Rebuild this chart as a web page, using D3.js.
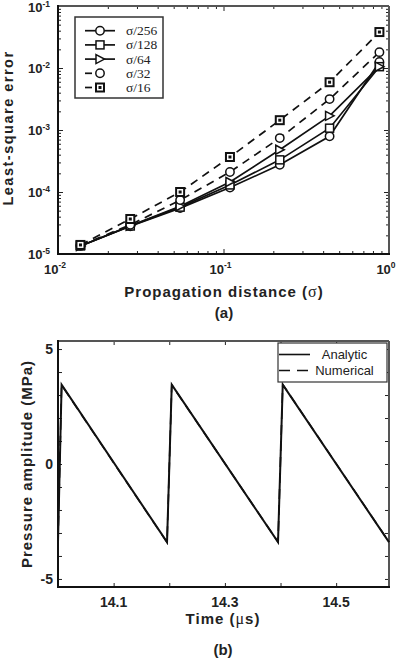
<!DOCTYPE html>
<html><head><meta charset="utf-8">
<script src="https://cdn.jsdelivr.net/npm/d3@7"></script>
<style>
html,body{margin:0;padding:0;background:#fff;}
text{font-family:"Liberation Sans",Arial,sans-serif;}
.serif{font-family:"Liberation Serif","Times New Roman",serif;}
</style>
</head><body>
<svg id="c" width="400" height="658"></svg>
<script>
// ---------- Data (a) ----------
const distance = [0.01367, 0.02734, 0.05469, 0.1094, 0.2188, 0.4375, 0.875];
const err256 = [1.35e-5, 2.8e-5, 5.5e-5, 1.18e-4, 2.74e-4, 7.9e-4, 1.25e-2];
const err128 = [1.35e-5, 2.83e-5, 5.7e-5, 1.3e-4, 3.3e-4, 1.07e-3, 1.05e-2];
const err64  = [1.35e-5, 2.86e-5, 5.9e-5, 1.45e-4, 4.8e-4, 1.69e-3, 1.05e-2];
const err32  = [1.38e-5, 2.95e-5, 7.4e-5, 2.1e-4, 7.4e-4, 3.15e-3, 1.8e-2];
const err16  = [1.4e-5, 3.67e-5, 1.0e-4, 3.67e-4, 1.44e-3, 5.9e-3, 3.8e-2];
const seriesLabels = ["σ/256", "σ/128", "σ/64", "σ/32", "σ/16"];
const xTickLabelsA = ["-2", "-1", "0"];
const yTickLabelsA = ["-5", "-4", "-3", "-2", "-1"];

// ---------- Data (b) ----------
const waveTime = [14.000, 14.0065, 14.196, 14.2045, 14.3955, 14.404, 14.595];
const analytic = [-3.4, 3.45, -3.4, 3.45, -3.4, 3.45, -3.4];
const numerical = [-3.38, 3.43, -3.41, 3.44, -3.39, 3.46, -3.39];
const timeTicks = [14.1, 14.2, 14.3, 14.4, 14.5];
const timeTickLabels = ["14.1", "", "14.3", "", "14.5"];
const ampTicks = [-5, -4, -3, -2, -1, 0, 1, 2, 3, 4, 5];
const ampTickLabels = ["-5", "0", "5"];

const svg = d3.select("#c");

// =============== Panel (a) ===============
const L1 = 58, R1 = 389, T1 = 6, B1 = 254;
const x1 = d3.scaleLog().domain([0.01, 1]).range([L1, R1]);
const y1 = d3.scaleLog().domain([1e-5, 1e-1]).range([B1, T1]);

function logTicks(lo, hi) {
  const out = [];
  for (let d = lo; d < hi; d++) for (let k = 1; k <= 9; k++) out.push(k * Math.pow(10, d));
  out.push(Math.pow(10, hi));
  return out;
}
const xMajA = [0.01, 0.1, 1], xMinA = logTicks(-2, 0).filter(v => !xMajA.some(m => Math.abs(m - v) < 1e-12));
const yMajA = [1e-5, 1e-4, 1e-3, 1e-2, 1e-1], yMinA = logTicks(-5, -1).filter(v => !yMajA.some(m => Math.abs(m - v) / m < 1e-9));

function tickAxis(axisFn, scale, vals, size, transform) {
  const g = svg.append("g").attr("transform", transform)
    .call(axisFn(scale).tickValues(vals).tickSize(size).tickFormat(""));
  g.select(".domain").remove();
  g.selectAll("line").attr("stroke", "#222").attr("stroke-width", 1);
  return g;
}
tickAxis(d3.axisBottom, x1, xMajA, -5, `translate(0,${B1})`);
tickAxis(d3.axisBottom, x1, xMinA, -3, `translate(0,${B1})`);
tickAxis(d3.axisTop, x1, xMajA, -5, `translate(0,${T1})`);
tickAxis(d3.axisTop, x1, xMinA, -3, `translate(0,${T1})`);
tickAxis(d3.axisLeft, y1, yMajA, -5, `translate(${L1},0)`);
tickAxis(d3.axisLeft, y1, yMinA, -3, `translate(${L1},0)`);
tickAxis(d3.axisRight, y1, yMajA, -5, `translate(${R1},0)`);
tickAxis(d3.axisRight, y1, yMinA, -3, `translate(${R1},0)`);

svg.append("line").attr("x1", L1).attr("x2", R1).attr("y1", T1).attr("y2", T1).attr("stroke", "#555").attr("stroke-width", 2);
svg.append("line").attr("x1", R1).attr("x2", R1).attr("y1", T1).attr("y2", B1).attr("stroke", "#555").attr("stroke-width", 2);
svg.append("line").attr("x1", L1).attr("x2", L1).attr("y1", T1 - 1).attr("y2", B1 + 1).attr("stroke", "#111").attr("stroke-width", 2);
svg.append("line").attr("x1", L1 - 1).attr("x2", R1 + 1).attr("y1", B1).attr("y2", B1).attr("stroke", "#111").attr("stroke-width", 2);

xMajA.forEach((v, i) => {
  const t = svg.append("text").attr("x", x1(v) - 3).attr("y", B1 + 20)
    .attr("text-anchor", "middle").attr("font-weight", "bold").attr("font-size", 13).attr("fill", "#222");
  t.append("tspan").text("10");
  t.append("tspan").attr("dy", -6).attr("font-size", 8.5).text(xTickLabelsA[i]);
});
yMajA.forEach((v, i) => {
  const t = svg.append("text").attr("x", 50).attr("y", y1(v) + 5 + (i === yMajA.length - 1 ? 1 : 0))
    .attr("text-anchor", "end").attr("font-weight", "bold").attr("font-size", 13).attr("fill", "#222");
  t.append("tspan").text("10");
  t.append("tspan").attr("dy", -5.5).attr("font-size", 8.5).text(yTickLabelsA[i]);
});

const xt = svg.append("text").attr("x", 224).attr("y", 297).attr("text-anchor", "middle")
  .attr("font-weight", "bold").attr("font-size", 15).attr("letter-spacing", "1px").attr("fill", "#222");
xt.append("tspan").text("Propagation distance (");
xt.append("tspan").attr("class", "serif").attr("font-weight", "normal").attr("font-size", 16).text("σ");
xt.append("tspan").text(")");
svg.append("text").attr("x", 224).attr("y", 318).attr("text-anchor", "middle")
  .attr("font-weight", "bold").attr("font-size", 15).attr("fill", "#222").text("(a)");
svg.append("text").attr("transform", `translate(13,128) rotate(-90)`).attr("text-anchor", "middle")
  .attr("font-weight", "bold").attr("font-size", 14.5).attr("letter-spacing", "1.5px").attr("fill", "#222")
  .text("Least-square error");

function marker(g, type, cx, cy) {
  if (type === "circle") {
    g.append("circle").attr("cx", cx).attr("cy", cy).attr("r", 4.2).attr("fill", "#fff").attr("stroke", "#111").attr("stroke-width", 1.5);
  } else if (type === "square") {
    g.append("rect").attr("x", cx - 4).attr("y", cy - 4).attr("width", 8).attr("height", 8).attr("fill", "#fff").attr("stroke", "#111").attr("stroke-width", 1.5);
  } else if (type === "squaredot") {
    g.append("rect").attr("x", cx - 4).attr("y", cy - 4).attr("width", 8).attr("height", 8).attr("fill", "#fff").attr("stroke", "#111").attr("stroke-width", 2);
    g.append("rect").attr("x", cx - 1.5).attr("y", cy - 1.5).attr("width", 3).attr("height", 3).attr("fill", "#111");
  } else if (type === "triangle") {
    g.append("path").attr("d", `M${cx - 4},${cy - 4.5}L${cx + 4.5},${cy}L${cx - 4},${cy + 4.5}Z`).attr("fill", "#fff").attr("stroke", "#111").attr("stroke-width", 1.5);
  }
}

const seriesA = [
  { label: seriesLabels[0], values: err256, dash: null, mk: "circle" },
  { label: seriesLabels[1], values: err128, dash: null, mk: "square" },
  { label: seriesLabels[2], values: err64, dash: null, mk: "triangle" },
  { label: seriesLabels[3], values: err32, dash: "8,6", mk: "circle" },
  { label: seriesLabels[4], values: err16, dash: "8,6", mk: "squaredot" }
];
const lineA = d3.line().x(d => x1(d[0])).y(d => y1(d[1]));
seriesA.forEach(s => {
  const pts = distance.map((d, i) => [d, s.values[i]]);
  svg.append("path").attr("d", lineA(pts)).attr("fill", "none").attr("stroke", "#111")
    .attr("stroke-width", 1.7).attr("stroke-dasharray", s.dash);
});
seriesA.forEach(s => {
  const g = svg.append("g");
  distance.forEach((d, i) => marker(g, s.mk, x1(d), y1(s.values[i])));
});

svg.append("rect").attr("x", 75).attr("y", 17).attr("width", 88).attr("height", 81)
  .attr("fill", "#fff").attr("stroke", "#333").attr("stroke-width", 1.5);
seriesA.forEach((s, i) => {
  const yy = 30.7 + i * 14.2;
  const g = svg.append("g");
  if (s.dash) {
    g.append("line").attr("x1", 85).attr("x2", 92).attr("y1", yy).attr("y2", yy).attr("stroke", "#111").attr("stroke-width", 1.7);
    g.append("line").attr("x1", 96).attr("x2", 104).attr("y1", yy).attr("y2", yy).attr("stroke", "#111").attr("stroke-width", 1.7);
  } else {
    g.append("line").attr("x1", 85).attr("x2", 115).attr("y1", yy).attr("y2", yy).attr("stroke", "#111").attr("stroke-width", 1.7);
  }
  marker(g, s.mk, 100, yy);
  g.append("text").attr("class", "serif").attr("x", 126).attr("y", yy + 4.5)
    .attr("font-size", 13.5).attr("fill", "#222").text(s.label);
});

// =============== Panel (b) ===============
const L2 = 58, R2 = 389, T2 = 341, B2 = 587;
const x2 = d3.scaleLinear().domain([14.0, 14.595]).range([L2, R2]);
const y2 = d3.scaleLinear().domain([-5.35, 5.35]).range([B2, T2]);

tickAxis(d3.axisBottom, x2, timeTicks, -4, `translate(0,${B2})`);
tickAxis(d3.axisTop, x2, timeTicks, -4, `translate(0,${T2})`);
tickAxis(d3.axisLeft, y2, ampTicks, -4, `translate(${L2},0)`);
tickAxis(d3.axisRight, y2, ampTicks, -4, `translate(${R2},0)`);

svg.append("line").attr("x1", L2).attr("x2", R2).attr("y1", T2).attr("y2", T2).attr("stroke", "#555").attr("stroke-width", 2);
svg.append("line").attr("x1", R2).attr("x2", R2).attr("y1", T2).attr("y2", B2).attr("stroke", "#555").attr("stroke-width", 2);

const lineB = d3.line().x(d => x2(d[0])).y(d => y2(d[1]));
svg.append("path").attr("d", lineB(waveTime.map((t, i) => [t, analytic[i]])))
  .attr("fill", "none").attr("stroke", "#111").attr("stroke-width", 2);
svg.append("path").attr("d", lineB(waveTime.map((t, i) => [t, numerical[i]])))
  .attr("fill", "none").attr("stroke", "#111").attr("stroke-width", 1.6).attr("stroke-dasharray", "10,6");

svg.append("line").attr("x1", L2).attr("x2", L2).attr("y1", T2 - 1).attr("y2", B2 + 1).attr("stroke", "#111").attr("stroke-width", 2);
svg.append("line").attr("x1", L2 - 1).attr("x2", R2 + 1).attr("y1", B2).attr("y2", B2).attr("stroke", "#111").attr("stroke-width", 2);

timeTicks.forEach((v, i) => {
  if (!timeTickLabels[i]) return;
  svg.append("text").attr("x", x2(v)).attr("y", 607).attr("text-anchor", "middle")
    .attr("font-weight", "bold").attr("font-size", 14).attr("fill", "#222").text(timeTickLabels[i]);
});
ampTickLabels.forEach(lbl => {
  svg.append("text").attr("x", 53).attr("y", y2(+lbl) + 5).attr("text-anchor", "end")
    .attr("font-weight", "bold").attr("font-size", 14).attr("fill", "#222").text(lbl);
});

const xt2 = svg.append("text").attr("x", 223).attr("y", 624).attr("text-anchor", "middle")
  .attr("font-weight", "bold").attr("font-size", 15).attr("letter-spacing", "1px").attr("fill", "#222");
xt2.append("tspan").text("Time (");
xt2.append("tspan").attr("class", "serif").attr("font-weight", "normal").attr("font-size", 16).text("μ");
xt2.append("tspan").text("s)");
svg.append("text").attr("x", 223).attr("y", 655).attr("text-anchor", "middle")
  .attr("font-weight", "bold").attr("font-size", 15).attr("fill", "#222").text("(b)");
svg.append("text").attr("transform", `translate(32,464) rotate(-90)`).attr("text-anchor", "middle")
  .attr("font-weight", "bold").attr("font-size", 15).attr("letter-spacing", "1px").attr("fill", "#222")
  .text("Pressure amplitude (MPa)");

svg.append("rect").attr("x", 278).attr("y", 343).attr("width", 109).attr("height", 39)
  .attr("fill", "#fff").attr("stroke", "#333").attr("stroke-width", 1.2);
svg.append("line").attr("x1", 279).attr("x2", 310).attr("y1", 354.5).attr("y2", 354.5).attr("stroke", "#111").attr("stroke-width", 1.6);
svg.append("line").attr("x1", 279).attr("x2", 310).attr("y1", 370.5).attr("y2", 370.5).attr("stroke", "#111").attr("stroke-width", 1.6).attr("stroke-dasharray", "11,7");
svg.append("text").attr("x", 344.5).attr("y", 359).attr("text-anchor", "middle").attr("font-size", 13).attr("fill", "#222").text("Analytic");
svg.append("text").attr("x", 344.5).attr("y", 375).attr("text-anchor", "middle").attr("font-size", 13).attr("fill", "#222").text("Numerical");
</script>
</body></html>
